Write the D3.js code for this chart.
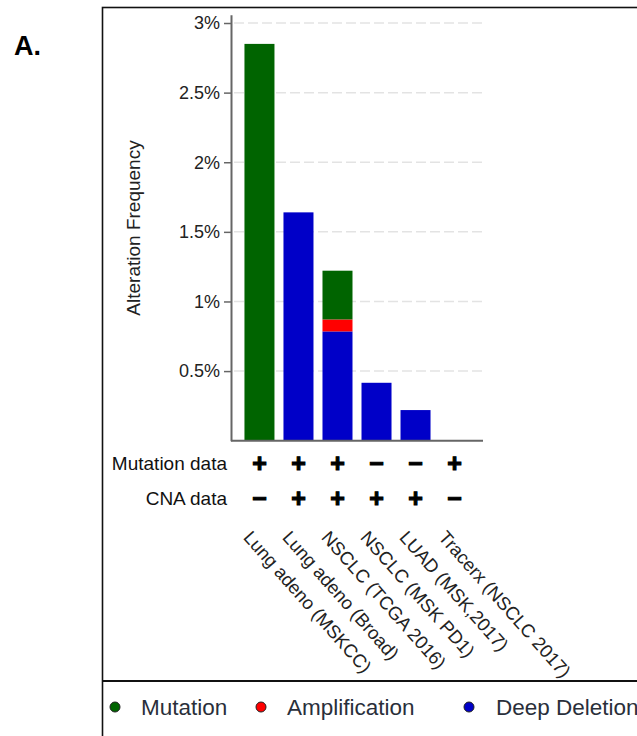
<!DOCTYPE html>
<html>
<head>
<meta charset="utf-8">
<script src="https://cdn.jsdelivr.net/npm/d3@7"></script>
<style>
  body { margin: 0; background: #fff; }
  svg { display: block; font-family: Arial, "Liberation Sans", sans-serif; }
</style>
</head>
<body>
<div id="chart"></div>
<script>
// 1: DATA
const studies = ["Lung adeno (MSKCC)", "Lung adeno (Broad)", "NSCLC (TCGA 2016)",
                 "NSCLC (MSK PD1)", "LUAD (MSK,2017)", "Tracerx (NSCLC 2017)"];
// alteration frequency in percent
const mutation      = [2.85, 0, 0.35, 0, 0, 0];
const amplification = [0, 0, 0.086, 0, 0, 0];
const deepDeletion  = [0, 1.64, 0.785, 0.416, 0.22, 0];
const mutationData  = ["+", "+", "+", "\u2212", "\u2212", "+"];
const cnaData       = ["\u2212", "+", "+", "+", "+", "\u2212"];
const yTicks = [0.5, 1, 1.5, 2, 2.5, 3];
const seriesNames = ["Mutation", "Amplification", "Deep Deletion"];
const seriesColors = ["#006400", "#ff0000", "#0000c8"];

const W = 637, H = 736;

const svg = d3.select("#chart").append("svg")
    .attr("width", W)
    .attr("height", H);

// panel letter and frame
svg.append("text")
    .attr("x", 14).attr("y", 55)
    .style("font-size", "27px")
    .style("font-weight", "bold")
    .text("A.");

svg.append("rect")
    .attr("x", 102.5).attr("y", 7.5)
    .attr("width", 700).attr("height", 800)
    .attr("fill", "none")
    .attr("stroke", "#111")
    .attr("stroke-width", 1.6);

svg.append("line")
    .attr("x1", 102).attr("x2", W)
    .attr("y1", 681).attr("y2", 681)
    .attr("stroke", "#111")
    .attr("stroke-width", 2);

// 2: STACK DATA (bottom to top: deep deletion, amplification, mutation)
const table = studies.map((s, i) => ({
    study: s,
    "Deep Deletion": deepDeletion[i],
    "Amplification": amplification[i],
    "Mutation": mutation[i]
}));
const stacked = d3.stack()
    .keys(["Deep Deletion", "Amplification", "Mutation"])(table);

const color = d3.scaleOrdinal().domain(seriesNames).range(seriesColors);

// 3: SCALES
const axisX = 231, axisRight = 483;
const x = d3.scaleBand()
    .domain(studies)
    .range([axisX, axisRight])
    .paddingInner(0.2308)
    .paddingOuter(0.345);

const y = d3.scaleLinear()
    .domain([0, 3.06])
    .range([440.7, 440.7 - 3.06 * 139.23]);

// gridlines
svg.append("g")
    .selectAll("line")
    .data(yTicks)
    .join("line")
    .attr("x1", axisX + 3).attr("x2", axisRight)
    .attr("y1", d => y(d)).attr("y2", d => y(d))
    .attr("stroke", "#e3e3e3")
    .attr("stroke-width", 1.5)
    .attr("stroke-dasharray", "10,4");

// 4: BARS
svg.append("g")
    .selectAll("g")
    .data(stacked)
    .join("g")
    .attr("fill", d => color(d.key))
    .selectAll("rect")
    .data(d => d)
    .join("rect")
    .attr("x", d => x(d.data.study))
    .attr("width", x.bandwidth())
    .attr("y", d => y(d[1]))
    .attr("height", d => y(d[0]) - y(d[1]));

// 5: AXES
const yAxis = svg.append("g")
    .attr("transform", `translate(${axisX},0)`)
    .call(d3.axisLeft(y)
        .tickValues(yTicks)
        .tickFormat(d => d + "%")
        .tickSize(7)
        .tickSizeOuter(0)
        .tickPadding(4));
yAxis.select(".domain").attr("stroke", "#666").attr("stroke-width", 2);
yAxis.selectAll(".tick line").attr("stroke", "#666").attr("stroke-width", 1.5);
yAxis.selectAll(".tick text")
    .style("font-size", "18px")
    .attr("fill", "#222")
    .attr("font-family", "Arial, 'Liberation Sans', sans-serif");

svg.append("line")
    .attr("x1", axisX).attr("x2", axisRight)
    .attr("y1", y(0)).attr("y2", y(0))
    .attr("stroke", "#666")
    .attr("stroke-width", 2);

// 6: LABELS
svg.append("text")
    .attr("transform", `translate(140,228) rotate(-90)`)
    .attr("text-anchor", "middle")
    .style("font-size", "19px")
    .attr("fill", "#222")
    .text("Alteration Frequency");

// mutation / CNA data rows
const rows = [
    { label: "Mutation data", marks: mutationData, cy: 463 },
    { label: "CNA data", marks: cnaData, cy: 498 }
];
rows.forEach(r => {
    svg.append("text")
        .attr("x", 227).attr("y", r.cy + 6.8)
        .attr("text-anchor", "end")
        .style("font-size", "19px")
        .attr("fill", "#111")
        .text(r.label);
    svg.append("g")
        .selectAll("text")
        .data(r.marks.map((m, i) => ({ m, s: studies[i] })))
        .join("text")
        .attr("x", d => x(d.s) + x.bandwidth() / 2)
        .attr("y", r.cy + 8.5)
        .attr("text-anchor", "middle")
        .style("font-size", "25px")
        .style("font-weight", "bold")
        .attr("fill", "#000")
        .attr("stroke", "#000")
        .attr("stroke-width", 1.1)
        .text(d => d.m);
});

// rotated study names
svg.append("g")
    .selectAll("text")
    .data(studies)
    .join("text")
    .attr("transform", d => `translate(${x(d) + x.bandwidth() / 2 - 17},538) rotate(48.5)`)
    .style("font-size", "18.5px")
    .attr("fill", "#222")
    .text(d => d);

// legend
const legendX = [115, 261, 469];
const legend = svg.append("g")
    .selectAll("g")
    .data(seriesNames)
    .join("g")
    .attr("transform", (d, i) => `translate(${legendX[i]},707)`);
legend.append("circle")
    .attr("r", 5)
    .attr("fill", d => color(d))
    .attr("stroke", "#222")
    .attr("stroke-width", 1);
legend.append("text")
    .attr("x", (d, i) => i === 2 ? 27 : 26)
    .attr("y", 8)
    .style("font-size", "22.5px")
    .attr("fill", "#2a2f3a")
    .text(d => d);
</script>
</body>
</html>
